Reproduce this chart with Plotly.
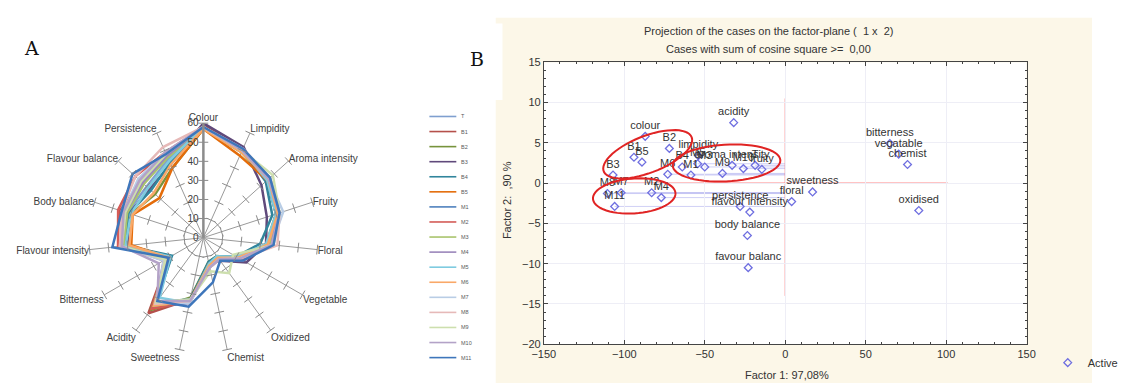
import plotly.graph_objects as go
import numpy as np

W, H = 1123, 389

# ---------------- Panel A: radar data ----------------
attributes = ["Colour", "Limpidity", "Aroma intensity", "Fruity", "Floral", "Vegetable",
              "Oxidized", "Chemist", "Sweetness", "Acidity", "Bitterness",
              "Flavour intensity", "Body balance", "Flavour balance", "Persistence"]
radial_ticks = [0, 10, 20, 30, 40, 50, 60]

series_names = ["T", "B1", "B2", "B3", "B4", "B5", "M1", "M2", "M3", "M4", "M5",
                "M6", "M7", "M8", "M9", "M10", "M11"]

vals_T = [58, 50, 45, 40, 34, 22, 13, 15, 34, 44, 22, 42, 42, 40, 45]
vals_B1 = [59, 51, 46, 42, 35, 24, 14, 14, 33, 49, 21, 43, 46, 44, 47]
vals_B2 = [57, 49, 45, 40, 33, 21, 12, 13, 32, 47, 20, 41, 40, 34, 40]
vals_B3 = [60, 52, 41, 35, 33, 26, 15, 14, 33, 45, 20, 40, 41, 38, 42]
vals_B4 = [58, 50, 44, 38, 30, 20, 12, 13, 33, 42, 19, 41, 41, 37, 43]
vals_B5 = [57, 47, 45, 41, 34, 21, 13, 14, 34, 46, 21, 38, 39, 31, 40]
vals_M1 = [58, 51, 46, 40, 34, 22, 13, 15, 35, 45, 21, 44, 43, 45, 47]
vals_M2 = [58, 50, 45, 41, 35, 23, 14, 16, 34, 46, 22, 45, 47, 48, 49]
vals_M3 = [58, 50, 47, 42, 35, 22, 13, 16, 34, 44, 23, 42, 42, 42, 46]
vals_M4 = [58, 51, 46, 41, 36, 24, 14, 16, 35, 43, 24, 43, 43, 43, 47]
vals_M5 = [58, 50, 45, 40, 33, 20, 12, 14, 35, 39, 20, 41, 40, 39, 44]
vals_M6 = [57, 49, 46, 41, 34, 21, 13, 15, 34, 44, 21, 39, 39, 35, 42]
vals_M7 = [58, 50, 46, 44, 36, 22, 14, 16, 35, 42, 24, 44, 44, 46, 49]
vals_M8 = [58, 51, 47, 42, 39, 22, 14, 16, 34, 43, 23, 44, 45, 48, 52]
vals_M9 = [58, 50, 49, 42, 37, 18, 23, 18, 33, 42, 23, 43, 43, 44, 48]
vals_M10 = [58, 50, 46, 42, 36, 22, 14, 16, 34, 41, 27, 43, 44, 45, 49]
vals_M11 = [58, 51, 47, 42, 37, 24, 15, 24, 37, 41, 21, 48, 45, 50, 48]

series_colors = ["#7f9fcf", "#b5504b", "#77933c", "#604a7b", "#31859c", "#e46c0a",
                 "#4f81bd", "#d45b57", "#a9c46c", "#9b86bb", "#7fcbe0", "#f9a868",
                 "#b9cde5", "#e6b9b8", "#cddfae", "#b3a2c7", "#3e76bb"]

radar_values = [vals_T, vals_B1, vals_B2, vals_B3, vals_B4, vals_B5, vals_M1, vals_M2,
                vals_M3, vals_M4, vals_M5, vals_M6, vals_M7, vals_M8, vals_M9, vals_M10,
                vals_M11]

# ---------------- Panel B: factor-plane data ----------------
point_labels = ["colour", "acidity", "limpidity", "aroma intensity", "fruity",
                "bitterness", "vegatable", "chemist", "oxidised", "sweetness", "floral",
                "persistence", "flavour intensity", "body balance", "favour balanc",
                "B1", "B2", "B3", "B5", "B4", "M6", "M1", "M5", "M3", "M9", "M10", "T",
                "M8", "M7", "M11", "M2", "M4"]
factor1 = [-87, -32, -54, -33, -14.5,
           65, 70.5, 76, 83, 17, 4,
           -28, -22, -23.5, -23,
           -94, -72, -107, -89, -64, -73, -58.6, -54.4, -50, -39, -26, -18.7,
           -110.5, -102, -106, -83, -77]
factor2 = [5.8, 7.5, 3.4, 2.2, 1.7,
           4.9, 3.6, 2.3, -3.4, -1.1, -2.3,
           -2.9, -3.6, -6.5, -10.5,
           3.2, 4.3, 1.0, 2.6, 2.0, 1.1, 1.0, 2.4, 2.0, 1.2, 1.8, 2.2,
           -1.3, -1.2, -2.9, -1.2, -1.8]


def px_x(px):
    return px / W


def px_y(py):
    return 1 - py / H


fig = go.Figure()

# radar series
for name, vals, col in zip(series_names, radar_values, series_colors):
    fig.add_trace(go.Scatterpolar(
        r=vals + vals[:1], theta=attributes + attributes[:1], mode="lines",
        line=dict(color=col, width=2.5), name=name, showlegend=False,
        subplot="polar", hoverinfo="skip"))

# tick marks on every spoke
tick_theta, tick_r, tick_ang = [], [], []
for i, a in enumerate(attributes):
    for t in radial_ticks[1:]:
        tick_theta.append(a)
        tick_r.append(t)
        tick_ang.append(360.0 / len(attributes) * i)
fig.add_trace(go.Scatterpolar(
    r=tick_r, theta=tick_theta, mode="markers", showlegend=False, hoverinfo="skip",
    marker=dict(symbol="line-ew", size=7, angle=tick_ang,
                line=dict(color="#8a8a8a", width=1)),
    subplot="polar"))

# factor plane points
fig.add_trace(go.Scatter(
    x=factor1, y=factor2, mode="markers+text", text=point_labels,
    textposition="top center",
    textfont=dict(family="Liberation Sans", size=11, color="#333333"),
    marker=dict(symbol="diamond-open", size=6, color="#6f6fe0",
                line=dict(width=1.3, color="#6f6fe0")),
    name="Active", showlegend=True, xaxis="x", yaxis="y", cliponaxis=False))

shapes = []
# beige background of panel B
shapes.append(dict(type="rect", xref="paper", yref="paper", x0=px_x(503), x1=1.0,
                   y0=0, y1=px_y(12), fillcolor="#fcf7e8", line=dict(width=0),
                   layer="below"))
shapes.append(dict(type="rect", xref="paper", yref="paper", x0=px_x(490), x1=px_x(510),
                   y0=px_y(97), y1=px_y(18), fillcolor="white", line=dict(width=0),
                   layer="below"))
# white plot area
shapes.append(dict(type="rect", xref="x", yref="y", x0=-150, x1=150, y0=-20, y1=15,
                   fillcolor="white", line=dict(width=0), layer="below"))

# faint leader lines from sample points to the vertical axis
for lab, fx, fy in zip(point_labels, factor1, factor2):
    if lab.startswith("M") or lab == "T":
        shapes.append(dict(type="line", xref="x", yref="y", x0=fx, x1=0, y0=fy, y1=fy,
                           line=dict(color="rgba(150,150,235,0.45)", width=1),
                           layer="below"))

# red zero lines
shapes.append(dict(type="line", xref="x", yref="y", x0=0, x1=0, y0=-14, y1=10.5,
                   line=dict(color="#ff7070", width=1), layer="below"))
shapes.append(dict(type="line", xref="x", yref="y", x0=-110, x1=101, y0=0, y1=0,
                   line=dict(color="#ff7070", width=1), layer="below"))


# hand-drawn red ellipses (pixel-based)
def ellipse_path(cx, cy, a, b, rot_deg, n=60):
    t = np.linspace(0, 2 * np.pi, n)
    r = np.deg2rad(rot_deg)
    xs = cx + a * np.cos(t) * np.cos(r) - b * np.sin(t) * np.sin(r)
    ys = cy + a * np.cos(t) * np.sin(r) + b * np.sin(t) * np.cos(r)
    pts = [f"{px_x(x):.5f},{px_y(y):.5f}" for x, y in zip(xs, ys)]
    return "M " + " L ".join(pts) + " Z"


for (cx, cy, a, b, rot) in [(661, 153, 49, 19, -21), (743, 162, 56, 19, -3),
                             (647, 196, 43, 18, -4)]:
    shapes.append(dict(type="path", xref="paper", yref="paper",
                       path=ellipse_path(cx, cy, a, b, rot),
                       line=dict(color="#e02424", width=2)))

annotations = []
# manual radar legend
for i, (name, col) in enumerate(zip(series_names, series_colors)):
    yy = 114 + 15.55 * i
    shapes.append(dict(type="line", xref="paper", yref="paper", x0=px_x(434), x1=px_x(462),
                       y0=px_y(yy), y1=px_y(yy), line=dict(color=col, width=1.6)))
    annotations.append(dict(x=px_x(465), y=px_y(yy), xref="paper", yref="paper",
                            text=name, showarrow=False, xanchor="left", yanchor="middle",
                            font=dict(family="Liberation Sans", size=5.5, color="#595959")))

# panel letters
annotations.append(dict(x=px_x(20), y=px_y(43), xref="paper", yref="paper", text="A",
                        showarrow=False, xanchor="center", yanchor="middle",
                        font=dict(family="DejaVu Serif", size=19, color="#111111")))
annotations.append(dict(x=px_x(484), y=px_y(55), xref="paper", yref="paper", text="B",
                        showarrow=False, xanchor="center", yanchor="middle",
                        font=dict(family="DejaVu Serif", size=19, color="#111111")))
# titles of panel B
annotations.append(dict(x=px_x(787), y=px_y(26), xref="paper", yref="paper",
                        text="Projection of the cases on the factor-plane (  1 x  2)",
                        showarrow=False, xanchor="center", yanchor="middle",
                        font=dict(family="Liberation Sans", size=11, color="#333333")))
annotations.append(dict(x=px_x(787), y=px_y(44), xref="paper", yref="paper",
                        text="Cases with sum of cosine square >=  0,00",
                        showarrow=False, xanchor="center", yanchor="middle",
                        font=dict(family="Liberation Sans", size=11, color="#333333")))
annotations.append(dict(x=px_x(806), y=px_y(381), xref="paper", yref="paper",
                        text="Factor 1: 97,08%", showarrow=False, xanchor="center",
                        yanchor="middle",
                        font=dict(family="Liberation Sans", size=11, color="#333333")))
annotations.append(dict(x=px_x(515), y=px_y(200), xref="paper", yref="paper",
                        text="Factor 2:  ,90 %", showarrow=False, textangle=-90,
                        xanchor="center", yanchor="middle",
                        font=dict(family="Liberation Sans", size=11, color="#333333")))

tickfont_b = dict(family="Liberation Sans", size=11, color="#333333")

fig.update_layout(
    width=W, height=H, margin=dict(l=0, r=0, t=0, b=0),
    paper_bgcolor="white", plot_bgcolor="rgba(0,0,0,0)",
    showlegend=True,
    legend=dict(x=px_x(1077), y=px_y(368), xanchor="left", yanchor="middle",
                bgcolor="rgba(0,0,0,0)", font=tickfont_b),
    polar=dict(
        domain=dict(x=[px_x(80), px_x(318)], y=[px_y(358), px_y(120)]),
        bgcolor="rgba(0,0,0,0)",
        angularaxis=dict(direction="clockwise", rotation=90, showline=False,
                         showgrid=True, gridcolor="#9a9a9a", gridwidth=1, ticks="",
                         tickfont=dict(family="Liberation Sans", size=10, color="#404040")),
        radialaxis=dict(range=[0, 60], tickvals=radial_ticks, angle=90,
                        side="counterclockwise", showline=True, linecolor="#8c8c8c",
                        linewidth=2.5, showgrid=False, ticks="", tickangle=90,
                        tickfont=dict(family="Liberation Sans", size=10, color="#404040"))),
    xaxis=dict(domain=[px_x(553), px_x(1055)], range=[-150, 150], dtick=50,
               showgrid=True, gridcolor="#eeeef6", zeroline=False, showline=True,
               linecolor="#444444", linewidth=1, mirror="allticks", ticks="inside",
               ticklen=4, tickcolor="#444444", tickfont=tickfont_b,
               minor=dict(dtick=10, ticks="inside", ticklen=2, tickcolor="#444444",
                          showgrid=False),
               anchor="y"),
    yaxis=dict(domain=[px_y(349), px_y(58)], range=[-20, 15], dtick=5,
               showgrid=True, gridcolor="#eeeef6", zeroline=False, showline=True,
               linecolor="#444444", linewidth=1, mirror="allticks", ticks="inside",
               ticklen=4, tickcolor="#444444", tickfont=tickfont_b,
               minor=dict(dtick=1, ticks="inside", ticklen=2, tickcolor="#444444",
                          showgrid=False),
               anchor="x"),
    shapes=shapes, annotations=annotations,
)

fig.write_html("out.html", config=dict(displayModeBar=False),
               post_script="document.body.style.margin='0';document.body.style.padding='0';"
                           "document.documentElement.style.overflow='hidden';")
